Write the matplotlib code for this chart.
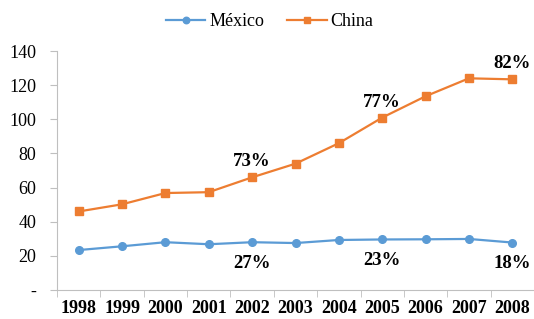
import matplotlib.pyplot as plt

years = ['1998', '1999', '2000', '2001', '2002', '2003', '2004', '2005', '2006', '2007', '2008']
mexico = [23.4, 25.6, 28.0, 26.8, 28.0, 27.5, 29.3, 29.6, 29.7, 29.9, 27.8]
china = [46.0, 50.2, 56.8, 57.3, 66.0, 74.0, 86.0, 101.0, 113.5, 124.0, 123.4]

# share labels: (year index, text)
china_labels = [(4, '73%'), (7, '77%'), (10, '82%')]
mexico_labels = [(4, '27%'), (7, '23%'), (10, '18%')]

plt.rcParams['font.family'] = ['Liberation Serif', 'DejaVu Serif']

fig = plt.figure(figsize=(5.34, 3.19), dpi=100)
ax = fig.add_axes([57 / 534, 29 / 319, 477 / 534, 239 / 319])

x = list(range(len(years)))
ax.plot(x, mexico, color='#5B9BD5', lw=1.6, marker='o', ms=5.5, label='México')
ax.plot(x, china, color='#ED7D31', lw=1.6, marker='s', ms=5.5, label='China')

for i, t in china_labels:
    ax.text(i, china[i] + 9, t, ha='center', va='center', fontsize=13.5, fontweight='bold')
for i, t in mexico_labels:
    ax.text(i, mexico[i] - 12.5, t, ha='center', va='center', fontsize=13.5, fontweight='bold')

ax.set_xlim(-0.5, len(years) - 0.5)
ax.set_ylim(0, 140)
ax.set_yticks(range(0, 141, 20))
ax.set_yticklabels(['-'] + [str(v) for v in range(20, 141, 20)], fontsize=13)
ax.set_xticks(x)
ax.set_xticklabels(years, fontsize=13, fontweight='bold')
ax.set_xticks([i - 0.5 for i in range(len(years) + 1)], minor=True)
ax.tick_params(axis='x', which='major', length=0, pad=7)
ax.tick_params(axis='x', which='minor', length=5, color='#BFBFBF')
ax.tick_params(axis='y', length=5, color='#BFBFBF', pad=10)

for s in ['top', 'right']:
    ax.spines[s].set_visible(False)
for s in ['left', 'bottom']:
    ax.spines[s].set_color('#BFBFBF')

fig.legend(loc='upper center', bbox_to_anchor=(0.505, 1.01), ncol=2, frameon=False,
           fontsize=13, handlelength=2.2, columnspacing=1.3, handletextpad=0.2,
           markerscale=0.85)

fig.savefig('out.png', dpi=100)
